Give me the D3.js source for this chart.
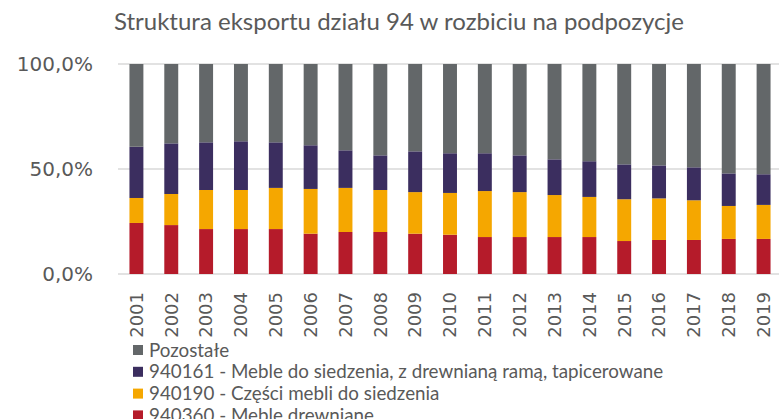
<!DOCTYPE html>
<html>
<head>
<meta charset="utf-8">
<script src="https://cdn.jsdelivr.net/npm/d3@7"></script>
<style>
  body { margin: 0; background: #fff; }
  svg { display: block; }
</style>
</head>
<body>
<div id="chart"></div>
<script>
// Data (share in %)
const years = ["2001", "2002", "2003", "2004", "2005", "2006", "2007", "2008", "2009", "2010",
  "2011", "2012", "2013", "2014", "2015", "2016", "2017", "2018", "2019"];
const meble = [24.3, 23.3, 21.4, 21.4, 21.4, 19.2, 20.0, 20.0, 19.2, 18.7,
  17.6, 17.6, 17.6, 17.6, 15.7, 16.2, 16.2, 16.7, 16.7];
const czesci = [11.9, 14.8, 18.6, 18.6, 19.6, 21.3, 21.0, 20.0, 19.8, 19.9,
  21.9, 21.4, 20.0, 19.1, 19.9, 19.8, 18.9, 15.7, 16.2];
const siedzenia = [24.4, 24.1, 22.7, 23.2, 21.7, 20.8, 17.9, 16.5, 19.4, 18.9,
  18.0, 17.5, 17.0, 17.0, 16.6, 15.7, 15.7, 15.5, 14.6];
const pozostale = [39.4, 37.8, 37.3, 36.8, 37.3, 38.7, 41.1, 43.5, 41.6, 42.5,
  42.5, 43.5, 45.4, 46.3, 47.8, 48.3, 49.2, 52.1, 52.5];

const seriesKeys = ["meble", "czesci", "siedzenia", "pozostale"];
const seriesNames = {
  pozostale: "Pozostałe",
  siedzenia: "940161 - Meble do siedzenia, z drewnianą ramą, tapicerowane",
  czesci: "940190 - Części mebli do siedzenia",
  meble: "940360 - Meble drewniane"
};
const legendOrder = ["pozostale", "siedzenia", "czesci", "meble"];
const yTicks = [0, 0.5, 1];

const colors = {
  meble: "#b51b2a",
  czesci: "#f5a700",
  siedzenia: "#3b2e5f",
  pozostale: "#636769"
};

const width = 779, height = 419;
const margin = { top: 64, right: -2, bottom: 145, left: 119 };

const table = years.map((y, i) => ({
  year: y, meble: meble[i], czesci: czesci[i], siedzenia: siedzenia[i], pozostale: pozostale[i]
}));

const stacked = d3.stack().keys(seriesKeys).offset(d3.stackOffsetExpand)(table);

const svg = d3.select("#chart").append("svg")
  .attr("width", width)
  .attr("height", height);

const x = d3.scaleBand()
  .domain(years)
  .range([margin.left, width - margin.right])
  .paddingInner(0.6)
  .paddingOuter(0.3);

const y = d3.scaleLinear()
  .domain([0, 1])
  .range([height - margin.bottom, margin.top]);

// Title
svg.append("text")
  .attr("x", 399)
  .attr("y", 30)
  .attr("text-anchor", "middle")
  .style("font-family", "Lato, 'Open Sans', sans-serif")
  .style("font-size", "24px")
  .style("fill", "#595959")
  .text("Struktura eksportu działu 94 w rozbiciu na podpozycje");

// Gridlines
svg.append("g")
  .selectAll("line")
  .data(yTicks)
  .join("line")
  .attr("x1", 118)
  .attr("x2", width)
  .attr("y1", d => y(d))
  .attr("y2", d => y(d))
  .attr("stroke", "#d9d9d9")
  .attr("stroke-width", 1.5);

// Y axis labels
const fmt = d => d3.format(".1f")(d * 100).replace(".", ",") + "%";
svg.append("g")
  .selectAll("text")
  .data(yTicks)
  .join("text")
  .attr("x", 93)
  .attr("y", d => y(d))
  .attr("dy", "0.35em")
  .attr("text-anchor", "end")
  .style("font-family", "'DejaVu Sans', sans-serif")
  .style("font-size", "20px")
  .style("fill", "#595959")
  .text(fmt);

// Bars
svg.append("g")
  .selectAll("g")
  .data(stacked)
  .join("g")
  .attr("fill", d => colors[d.key])
  .selectAll("rect")
  .data(d => d)
  .join("rect")
  .attr("x", d => x(d.data.year))
  .attr("width", x.bandwidth())
  .attr("y", d => y(d[1]))
  .attr("height", d => y(d[0]) - y(d[1]));

// X labels (rotated)
svg.append("g")
  .selectAll("text")
  .data(years)
  .join("text")
  .attr("transform", d => `translate(${x(d) + x.bandwidth() / 2}, 292) rotate(-90)`)
  .attr("dy", "0.35em")
  .attr("text-anchor", "end")
  .style("font-family", "'DejaVu Sans', sans-serif")
  .style("font-size", "18px")
  .style("fill", "#595959")
  .text(d => d);

// Legend
const legend = svg.append("g")
  .selectAll("g")
  .data(legendOrder)
  .join("g")
  .attr("transform", (d, i) => `translate(133, ${350 + i * 21.8})`);

legend.append("rect")
  .attr("x", 0)
  .attr("y", -5)
  .attr("width", 10)
  .attr("height", 10)
  .attr("fill", d => colors[d]);

legend.append("text")
  .attr("x", 16)
  .attr("dy", "0.35em")
  .style("font-family", "Lato, 'Open Sans', sans-serif")
  .style("font-size", "18.8px")
  .style("fill", "#595959")
  .text(d => seriesNames[d]);
</script>
</body>
</html>
